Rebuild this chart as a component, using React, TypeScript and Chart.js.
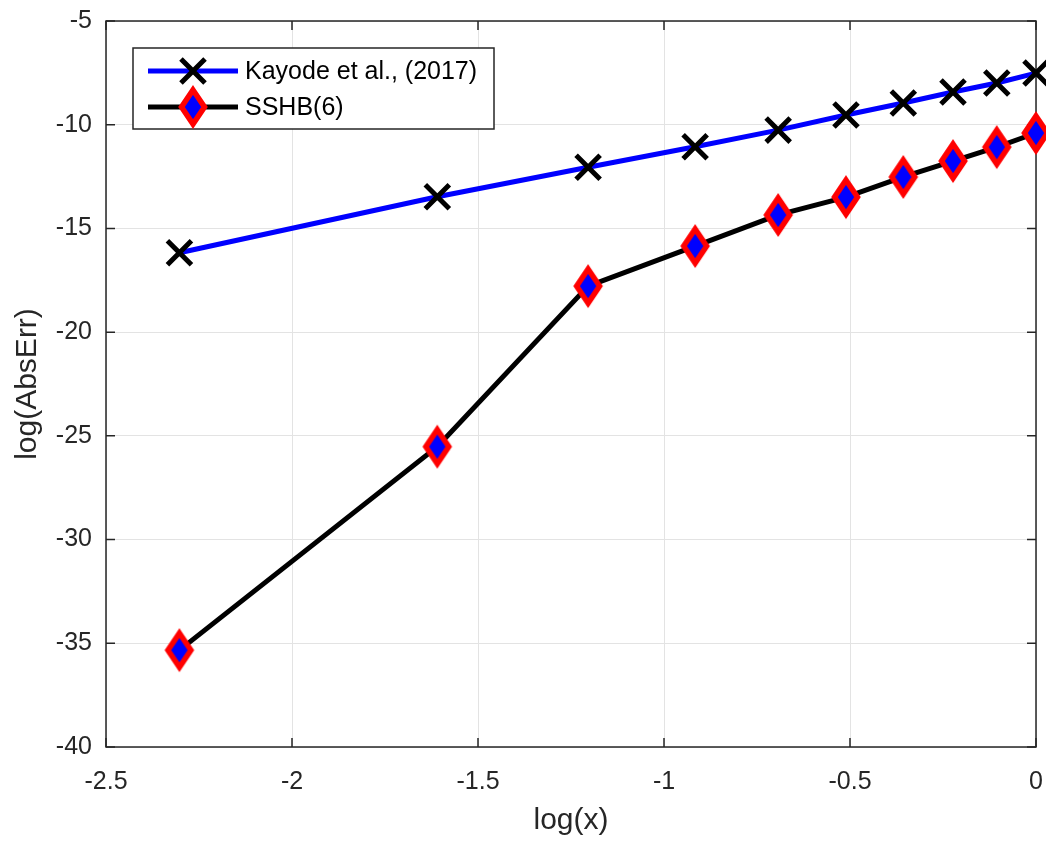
import React, { useEffect, useRef } from 'react';
import { Chart, registerables } from 'chart.js';

Chart.register(...registerables);

// ---- data ----
const xValues = [-2.3026, -1.6094, -1.204, -0.9163, -0.6931, -0.5108, -0.3567, -0.2231, -0.1054, 0];
const kayodeValues = [-16.17, -13.47, -12.05, -11.06, -10.26, -9.53, -8.95, -8.42, -7.99, -7.51];
const sshbValues = [-35.33, -25.52, -17.78, -15.85, -14.35, -13.49, -12.52, -11.75, -11.08, -10.4];
const xTicks = [-2.5, -2, -1.5, -1, -0.5, 0];
const yTicks = [-40, -35, -30, -25, -20, -15, -10, -5];
const seriesLabels = ['Kayode et al., (2017)', 'SSHB(6)'];
const xTitle = 'log(x)';
const yTitle = 'log(AbsErr)';

const FONT = '"Liberation Sans", Arial, Helvetica, sans-serif';
const TEXT = '#262626';

function makeDiamond(): HTMLCanvasElement {
  const c = document.createElement('canvas');
  c.width = 36;
  c.height = 48;
  const g = c.getContext('2d')!;
  g.beginPath();
  g.moveTo(18, 7);
  g.lineTo(29.5, 24);
  g.lineTo(18, 41);
  g.lineTo(6.5, 24);
  g.closePath();
  g.fillStyle = '#0000ff';
  g.fill();
  g.lineWidth = 5.5;
  g.lineJoin = 'miter';
  g.strokeStyle = '#ff0000';
  g.stroke();
  return c;
}

export default function App() {
  const ref = useRef<HTMLCanvasElement | null>(null);

  useEffect(() => {
    document.body.style.margin = '0';
    const canvas = ref.current!;
    const diamond = makeDiamond();
    const CROSS_R = 17;

    const frame = {
      id: 'frame',
      beforeDatasetsDraw(chart: any) {
        const { ctx, chartArea: a, scales } = chart;
        ctx.save();
        ctx.strokeStyle = TEXT;
        ctx.lineWidth = 1.5;
        ctx.strokeRect(a.left, a.top, a.right - a.left, a.bottom - a.top);
        const tl = 9;
        ctx.beginPath();
        for (const v of xTicks) {
          const px = scales.x.getPixelForValue(v);
          ctx.moveTo(px, a.bottom);
          ctx.lineTo(px, a.bottom - tl);
          ctx.moveTo(px, a.top);
          ctx.lineTo(px, a.top + tl);
        }
        for (const v of yTicks) {
          const py = scales.y.getPixelForValue(v);
          ctx.moveTo(a.left, py);
          ctx.lineTo(a.left + tl, py);
          ctx.moveTo(a.right, py);
          ctx.lineTo(a.right - tl, py);
        }
        ctx.stroke();
        ctx.restore();
      },
      afterDraw(chart: any) {
        const { ctx, chartArea: a } = chart;
        const bx = a.left + 27;
        const by = a.top + 27;
        const bw = 361;
        const bh = 81;
        ctx.save();
        ctx.fillStyle = '#ffffff';
        ctx.fillRect(bx, by, bw, bh);
        ctx.strokeStyle = TEXT;
        ctx.lineWidth = 1.5;
        ctx.strokeRect(bx, by, bw, bh);
        const rows = [by + 23, by + 59];
        const x0 = bx + 15;
        const x1 = bx + 105;
        const xm = (x0 + x1) / 2;
        // row 1
        ctx.strokeStyle = '#0000ff';
        ctx.lineWidth = 5;
        ctx.beginPath();
        ctx.moveTo(x0, rows[0]);
        ctx.lineTo(x1, rows[0]);
        ctx.stroke();
        const o = CROSS_R * Math.SQRT1_2;
        ctx.strokeStyle = '#000000';
        ctx.lineWidth = 5;
        ctx.beginPath();
        ctx.moveTo(xm - o, rows[0] - o);
        ctx.lineTo(xm + o, rows[0] + o);
        ctx.moveTo(xm - o, rows[0] + o);
        ctx.lineTo(xm + o, rows[0] - o);
        ctx.stroke();
        // row 2
        ctx.strokeStyle = '#000000';
        ctx.lineWidth = 5;
        ctx.beginPath();
        ctx.moveTo(x0, rows[1]);
        ctx.lineTo(x1, rows[1]);
        ctx.stroke();
        ctx.drawImage(diamond, xm - diamond.width / 2, rows[1] - diamond.height / 2);
        ctx.fillStyle = '#000000';
        ctx.font = `25px ${FONT}`;
        ctx.textBaseline = 'middle';
        ctx.textAlign = 'left';
        ctx.fillText(seriesLabels[0], bx + 112, rows[0] + 1);
        ctx.fillText(seriesLabels[1], bx + 112, rows[1] + 1);
        ctx.restore();
      },
    };

    const chart = new Chart(canvas, {
      type: 'line',
      data: {
        datasets: [
          {
            label: seriesLabels[0],
            data: xValues.map((x, i) => ({ x, y: kayodeValues[i] })),
            borderColor: '#0000ff',
            borderWidth: 5,
            pointStyle: 'crossRot',
            pointRadius: CROSS_R,
            pointBorderColor: '#000000',
            pointBorderWidth: 5,
            pointBackgroundColor: '#000000',
            clip: false as any,
            tension: 0,
          },
          {
            label: seriesLabels[1],
            data: xValues.map((x, i) => ({ x, y: sshbValues[i] })),
            borderColor: '#000000',
            borderWidth: 5,
            pointStyle: diamond as any,
            pointRadius: 15,
            clip: false as any,
            tension: 0,
          },
        ],
      },
      options: {
        responsive: false,
        animation: false,
        events: [],
        layout: { autoPadding: false, padding: { left: 0, top: 21, right: 10, bottom: 0 } },
        plugins: { legend: { display: false }, tooltip: { enabled: false } },
        scales: {
          x: {
            type: 'linear',
            min: -2.5,
            max: 0,
            afterBuildTicks: (s: any) => {
              s.ticks = xTicks.map((v) => ({ value: v }));
            },
            afterFit: (s: any) => {
              s.height = 94;
              s.paddingLeft = 0;
              s.paddingRight = 0;
            },
            grid: { color: '#e3e3e3', lineWidth: 1, drawTicks: false },
            border: { display: false },
            ticks: {
              color: TEXT,
              font: { family: FONT, size: 25 },
              padding: 20,
              maxRotation: 0,
              autoSkip: false,
              callback: (v: any) => String(v),
            },
            title: {
              display: true,
              text: xTitle,
              color: TEXT,
              font: { family: FONT, size: 30 },
              padding: { top: 0, bottom: 2 },
            },
          },
          y: {
            type: 'linear',
            min: -40,
            max: -5,
            afterBuildTicks: (s: any) => {
              s.ticks = yTicks.map((v) => ({ value: v }));
            },
            afterFit: (s: any) => {
              s.width = 106;
              s.paddingTop = 0;
              s.paddingBottom = 0;
            },
            grid: { color: '#e3e3e3', lineWidth: 1, drawTicks: false },
            border: { display: false },
            ticks: {
              color: TEXT,
              font: { family: FONT, size: 25 },
              padding: 14,
              autoSkip: false,
              callback: (v: any) => String(v),
            },
            title: {
              display: true,
              text: yTitle,
              color: TEXT,
              font: { family: FONT, size: 30 },
              padding: { top: 10, bottom: 0 },
            },
          },
        },
      },
      plugins: [frame],
    });

    return () => chart.destroy();
  }, []);

  return <canvas ref={ref} width={1046} height={841} style={{ display: 'block', width: 1046, height: 841 }} />;
}
